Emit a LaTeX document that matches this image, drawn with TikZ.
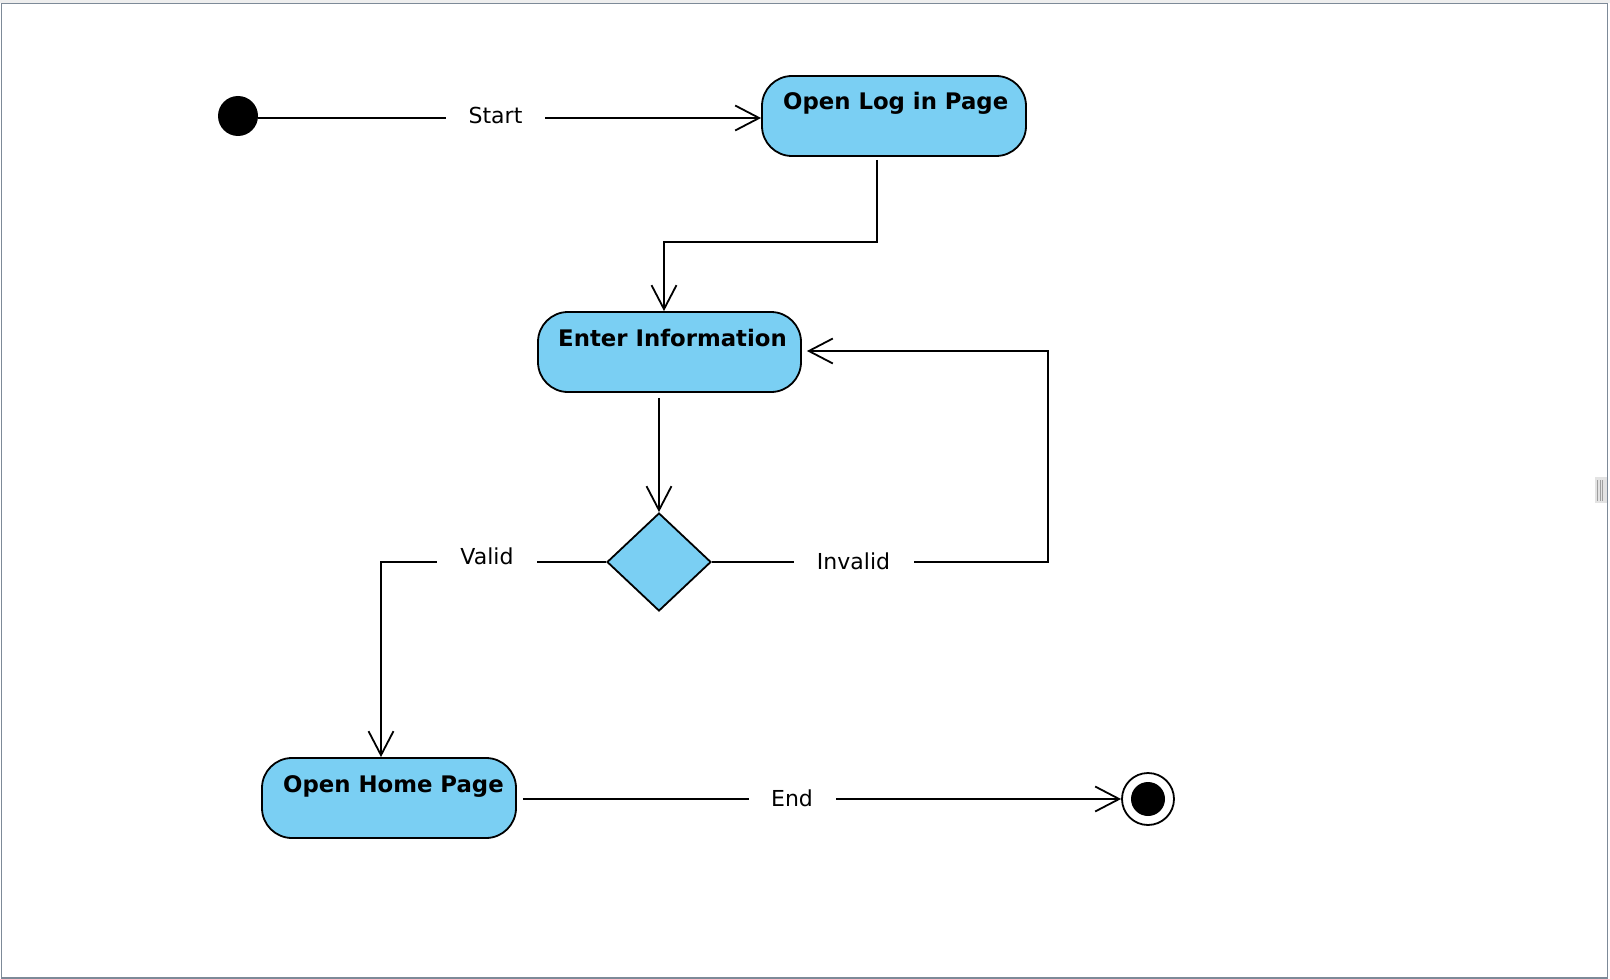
\documentclass[tikz,border=0pt]{standalone}
\usepackage{fontspec}
\setmainfont{DejaVu Sans}
\usetikzlibrary{arrows.meta,shapes.geometric}
\definecolor{actblue}{RGB}{122,207,243}
\definecolor{framegray}{RGB}{125,138,152}
\definecolor{bandgray}{RGB}{238,238,238}
\begin{document}
\begin{tikzpicture}[x=1pt,y=-1pt,
  actbox/.style={draw, line width=1.8pt, fill=actblue, rounded corners=30pt, minimum height=80pt, inner sep=0pt},
  acttext/.style={font=\fontsize{22.8}{27}\selectfont\bfseries, anchor=base west, inner sep=0pt},
  conn/.style={draw, line width=1.8pt, -{Straight Barb[length=24pt,width=25pt]}},
  lbl/.style={fill=white, font=\fontsize{22}{26}\selectfont, inner xsep=0pt, inner ysep=3pt}]
\useasboundingbox (0,0) rectangle (1610,979);
\fill[white] (0,0) rectangle (1610,979);
\fill[bandgray] (0,0) rectangle (1610,2.6);
\draw[framegray, line width=1.5pt] (1.5,3.5) rectangle (1607.5,978);
% resize handle
\fill[gray!22] (1595,477) rectangle (1607,503);
\draw[gray!75, line width=1pt] (1597.5,480) -- (1597.5,501) (1600,480) -- (1600,501) (1602.5,480) -- (1602.5,501);

% nodes
\node[circle, fill=black, minimum size=40pt, inner sep=0pt] (init) at (238,116) {};
\node[actbox, minimum width=264pt] (login) at (894,116) {};
\node[acttext] (loginT) at (783,110) {Open Log in Page};
\node[actbox, minimum width=263pt] (enter) at (669.5,352) {};
\node[acttext] (enterT) at (558,346) {Enter Information};
\node[diamond, draw, line width=1.8pt, fill=actblue, aspect=1.06, minimum width=104pt, minimum height=98pt, inner sep=0pt] (dec) at (659,562) {};
\node[actbox, minimum width=254pt] (home) at (389,798) {};
\node[acttext] (homeT) at (283,792) {Open Home Page};
\node[circle, draw, line width=1.8pt, fill=white, minimum size=52pt, inner sep=0pt] (final) at (1148,799) {};
\node[circle, fill=black, minimum size=34pt, inner sep=0pt] (finalIn) at (final.center) {};

% bend points
\coordinate (b1) at (877,242);
\coordinate (b2) at (664,242);
\coordinate (r1) at (1048,562);
\coordinate (r2) at (1048,351);
\coordinate (v1) at (381,562);

% connectors
\draw[conn] ([yshift=-2pt]init.east) -- ([yshift=-2pt]login.west);
\draw[conn, shorten <=3pt] (login.south -| b1) -- (b1) -- (b2) -- (b2 |- enter.north);
\draw[conn, shorten <=5pt] (enter.south -| dec.north) -- (dec.north);
\draw[conn, shorten >=5pt] (dec.east) -- (r1) -- (r2) -- (r2 -| enter.east);
\draw[conn] (dec.west) -- (v1) -- (v1 |- home.north);
\draw[conn, shorten <=6pt] (home.east |- final) -- (final.west);

% labels
\node[lbl, minimum width=99pt] (startL) at (495.5,115) {Start};
\node[lbl, minimum width=100pt] (validL) at (487,556) {Valid};
\node[lbl, minimum width=120pt] (invalidL) at (853.5,561) {Invalid};
\node[lbl, minimum width=87pt] (endL) at (792,798) {End};
\end{tikzpicture}
\end{document}
